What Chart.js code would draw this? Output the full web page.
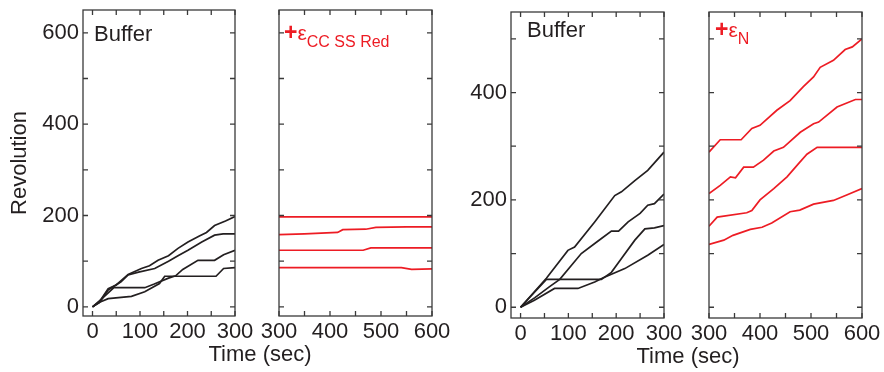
<!DOCTYPE html>
<html>
<head>
<meta charset="utf-8">
<script src="https://cdn.jsdelivr.net/npm/chart.js@4.4.1/dist/chart.umd.min.js"></script>
<style>
  body { margin: 0; background: #fff; }
  #wrap { position: relative; width: 884px; height: 372px; font-family: 'Liberation Sans', Arial, sans-serif; color: #231f20; }
  canvas { position: absolute; left: 0; top: 0; }
  .lbl { position: absolute; white-space: nowrap; font-size: 22px; line-height: 22px; }
  .red { color: #ed1c24; font-size: 21px; }
  .red b { font-size: 23px; }
  .red span { font-size: 16px; vertical-align: -7px; }
  .axis { width: 200px; text-align: center; }
</style>
</head>
<body>
<div id="wrap">
  <canvas id="p1" width="884" height="372"></canvas>
  <canvas id="p2" width="884" height="372"></canvas>
  <canvas id="p3" width="884" height="372"></canvas>
  <canvas id="p4" width="884" height="372"></canvas>
  <div class="lbl" style="left:94px;top:23px">Buffer</div>
  <div class="lbl red" style="left:284px;top:21px"><b>+</b>ε<span>CC SS Red</span></div>
  <div class="lbl" style="left:527px;top:19px">Buffer</div>
  <div class="lbl red" style="left:715px;top:18px"><b>+</b>ε<span>N</span></div>
  <div class="lbl axis" style="left:160px;top:343px">Time (sec)</div>
  <div class="lbl axis" style="left:588px;top:345px">Time (sec)</div>
</div>
<script>
// tick labels and tick marks
const xTicksA = [0, 100, 200, 300];
const xTicksB = [300, 400, 500, 600];
const xMarksA = [0, 50, 100, 150, 200, 250, 300];
const xMarksB = [300, 350, 400, 450, 500, 550, 600];
const yTicksLeft = [0, 200, 400, 600];
const yTicksRight = [0, 200, 400];
const yMarksLeft = [0, 100, 200, 300, 400, 500, 600];
const yMarksRight = [0, 100, 200, 300, 400, 500];

// left pair: buffer (0-300 s) then +eps CC SS Red (300-600 s)
const buf1A = [[0,0],[15,12],[33,40],[50,48],[75,71],[103,84],[120,90],[138,102],[160,112],[180,128],[201,142],[225,155],[240,163],[257,178],[280,188],[300,198]];
const buf1B = [[0,0],[15,10],[33,37],[60,55],[75,70],[97,76],[131,84],[160,100],[180,112],[201,124],[230,142],[257,157],[275,160],[300,160]];
const buf1C = [[0,0],[20,18],[45,42],[110,42],[130,50],[160,63],[175,68],[190,82],[222,102],[257,102],[276,114],[300,124]];
const buf1D = [[0,0],[15,10],[33,18],[82,23],[110,33],[141,51],[152,67],[260,67],[276,84],[300,86]];

const red1A = [[300,197],[390,197],[600,197]];
const red1B = [[300,158],[350,160],[415,163],[425,169],[470,170],[490,174],[550,175],[600,175]];
const red1C = [[300,124],[465,124],[480,129],[600,129]];
const red1D = [[300,86],[540,86],[560,82],[600,83]];

// right pair: buffer (0-300 s) then +eps N (300-600 s)
const buf2A = [[0,0],[54,54],[99,106],[113,112],[155,159],[197,208],[211,215],[239,236],[266,255],[300,289]];
const buf2B = [[0,0],[30,18],[60,38],[82,52],[127,100],[160,122],[190,142],[205,142],[225,159],[250,175],[266,190],[280,193],[300,211]];
const buf2C = [[0,0],[54,52],[169,52],[190,65],[211,91],[239,125],[260,146],[280,148],[300,152]];
const buf2D = [[0,0],[29,13],[71,35],[120,35],[155,47],[173,55],[218,72],[266,97],[300,117]];

const red2A = [[300,289],[322,312],[363,312],[384,333],[400,339],[433,367],[459,385],[485,411],[505,429],[518,447],[544,460],[567,480],[581,485],[600,500]];
const red2B = [[300,212],[322,227],[342,243],[352,241],[368,261],[387,261],[407,274],[427,291],[446,298],[479,326],[505,342],[515,345],[551,373],[587,387],[600,387]];
const red2C = [[300,151],[316,168],[374,176],[384,180],[400,200],[427,221],[453,243],[476,268],[492,285],[512,298],[600,298]];
const red2D = [[300,117],[329,125],[347,134],[381,145],[404,149],[423,157],[459,178],[478,181],[505,192],[544,199],[570,209],[600,221]];

const BLACK = '#231f20';
const RED = '#ed1c24';
const FONT = { family: "'Liberation Sans', Arial, sans-serif", size: 22 };

// frame around the plot with inward tick marks on all four sides
const frameTicks = {
    id: 'frameTicks',
    afterDatasetsDraw(chart, args, opts) {
        const { ctx, chartArea: a, scales: { x, y } } = chart;
        ctx.save();
        ctx.strokeStyle = '#3a3a3a';
        ctx.lineWidth = 1.3;
        ctx.beginPath();
        opts.xMarks.forEach(v => {
            const px = x.getPixelForValue(v);
            ctx.moveTo(px, a.top); ctx.lineTo(px, a.top + 5);
            ctx.moveTo(px, a.bottom); ctx.lineTo(px, a.bottom - 5);
        });
        opts.yMarks.forEach(v => {
            const py = y.getPixelForValue(v);
            ctx.moveTo(a.left, py); ctx.lineTo(a.left + 5, py);
            ctx.moveTo(a.right, py); ctx.lineTo(a.right - 5, py);
        });
        ctx.stroke();
        ctx.strokeRect(a.left, a.top, a.right - a.left, a.bottom - a.top);
        ctx.restore();
    }
};

// drop the label margins chart.js adds, so the layout padding alone places the plot
function noMargins(s) {
    s.paddingTop = 0; s.paddingBottom = 0; s.paddingLeft = 0; s.paddingRight = 0;
}

function makePanel(id, cfg) {
    return new Chart(document.getElementById(id), {
        type: 'line',
        data: {
            datasets: cfg.series.map(s => ({
                data: s.map(p => ({ x: p[0], y: p[1] })),
                borderColor: cfg.color,
                borderWidth: 1.7,
                pointRadius: 0,
                tension: 0,
                fill: false
            }))
        },
        options: {
            responsive: false,
            animation: false,
            devicePixelRatio: 1,
            layout: { padding: cfg.padding },
            plugins: {
                legend: { display: false },
                tooltip: { enabled: false },
                frameTicks: { xMarks: cfg.xMarks, yMarks: cfg.yMarks }
            },
            scales: {
                x: {
                    type: 'linear',
                    min: cfg.xMin,
                    max: cfg.xMax,
                    grid: { display: false, drawTicks: false },
                    border: { display: false },
                    ticks: { color: BLACK, font: FONT, padding: 3, maxRotation: 0, autoSkip: false },
                    afterBuildTicks: s => { s.ticks = cfg.xTicks.map(v => ({ value: v })); },
                    afterFit: s => { s.height = 40; noMargins(s); }
                },
                y: {
                    display: cfg.yTicks !== null,
                    min: cfg.yMin,
                    max: cfg.yMax,
                    grid: { display: false, drawTicks: false },
                    border: { display: false },
                    ticks: { color: BLACK, font: FONT, padding: 4, autoSkip: false },
                    afterBuildTicks: s => { if (cfg.yTicks) s.ticks = cfg.yTicks.map(v => ({ value: v })); },
                    afterFit: s => { s.width = cfg.yWidth || 0; noMargins(s); },
                    title: cfg.yTitle
                        ? { display: true, text: cfg.yTitle, color: BLACK, font: FONT, padding: { top: 7, bottom: 0 } }
                        : { display: false }
                }
            }
        },
        plugins: [frameTicks]
    });
}

makePanel('p1', {
    series: [buf1A, buf1B, buf1C, buf1D], color: BLACK,
    xMin: -20, xMax: 300, yMin: -20, yMax: 650,
    xTicks: xTicksA, xMarks: xMarksA, yTicks: yTicksLeft, yMarks: yMarksLeft,
    yWidth: 83, yTitle: 'Revolution',
    padding: { left: 0, right: 649, top: 10, bottom: 16 }
});

makePanel('p2', {
    series: [red1A, red1B, red1C, red1D], color: RED,
    xMin: 300, xMax: 600, yMin: -20, yMax: 650,
    xTicks: xTicksB, xMarks: xMarksB, yTicks: null, yMarks: yMarksLeft,
    padding: { left: 279, right: 452, top: 10, bottom: 16 }
});

makePanel('p3', {
    series: [buf2A, buf2B, buf2C, buf2D], color: BLACK,
    xMin: -20, xMax: 300, yMin: -20, yMax: 550,
    xTicks: xTicksA, xMarks: xMarksA, yTicks: yTicksRight, yMarks: yMarksRight,
    yWidth: 70,
    padding: { left: 441, right: 220, top: 12, bottom: 14 }
});

makePanel('p4', {
    series: [red2A, red2B, red2C, red2D], color: RED,
    xMin: 300, xMax: 600, yMin: -20, yMax: 550,
    xTicks: xTicksB, xMarks: xMarksB, yTicks: null, yMarks: yMarksRight,
    padding: { left: 709, right: 22, top: 12, bottom: 14 }
});
</script>
</body>
</html>
